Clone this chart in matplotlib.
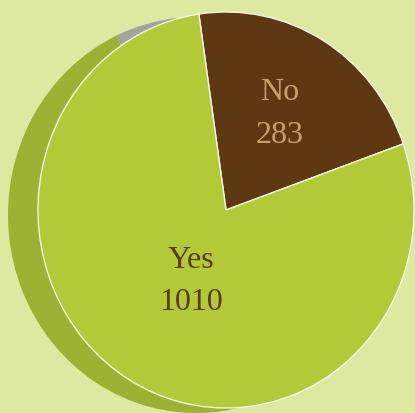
import matplotlib.pyplot as plt

labels = ['No', 'Yes']
values = [283, 1010]

front_colors = ['#5e3813', '#b3ca38']
shadow_colors = ['#a3a3a0', '#9db232']
text_colors = ['#c8a06e', '#5e3a10']

W, H = 415, 413


def px_axes(fig, left, top, width, height):
    # axes placed in pixel units, y measured from the top
    ax = fig.add_axes([left / W, 1 - (top + height) / H, width / W, height / H])
    return ax


fig = plt.figure(figsize=(W / 100, H / 100), dpi=100)
fig.patch.set_facecolor('#dde8a0')

# shadow / side of the 3d pie
ax_s = px_axes(fig, 8, 17, 376, 396)
ax_s.pie(values, colors=shadow_colors, startangle=115, counterclock=False,
         wedgeprops={'linewidth': 0})
ax_s.set_aspect('auto')
ax_s.set_xlim(-1, 1)
ax_s.set_ylim(-1, 1)
ax_s.axis('off')

# front face
ax = px_axes(fig, 38, 12, 376, 396)
ax.pie(values, colors=front_colors, startangle=98.3, counterclock=False,
       wedgeprops={'linewidth': 1.0, 'edgecolor': '#f4f4ea'})
ax.set_aspect('auto')
ax.set_xlim(-1, 1)
ax.set_ylim(-1, 1)
ax.axis('off')

label_pos = [(280, 93, 135), (191, 260, 302)]
for lab, val, (x, y1, y2), c in zip(labels, values, label_pos, text_colors):
    fig.text(x / W, 1 - y1 / H, lab, ha='center', va='center',
             color=c, fontsize=23, family='Liberation Serif')
    fig.text(x / W, 1 - y2 / H, str(val), ha='center', va='center',
             color=c, fontsize=23, family='Liberation Serif')

fig.savefig('out.png', dpi=100, facecolor=fig.get_facecolor())
